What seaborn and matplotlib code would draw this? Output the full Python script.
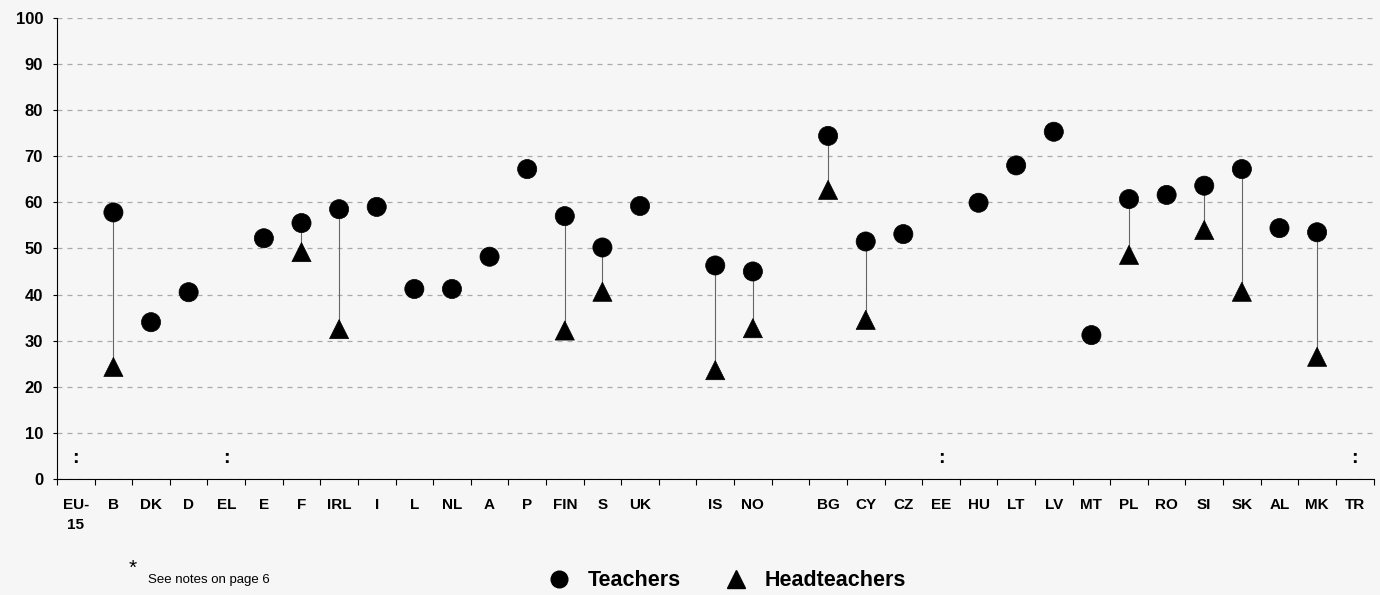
import numpy as np
import pandas as pd
import seaborn as sns
import matplotlib.pyplot as plt
from matplotlib.lines import Line2D

# slots along the x axis, "" marks an empty gap between country groups
slots = ["EU-\n15", "B", "DK", "D", "EL", "E", "F", "IRL", "I", "L", "NL", "A", "P",
         "FIN", "S", "UK", "", "IS", "NO", "", "BG", "CY", "CZ", "EE", "HU", "LT",
         "LV", "MT", "PL", "RO", "SI", "SK", "AL", "MK", "TR"]

teachers = [None, 57.8, 34, 40.5, None, 52.2, 55.5, 58.5, 59, 41.2, 41.2, 48.2, 67.2,
            57, 50.2, 59.2, None, 46.3, 45, None, 74.4, 51.5, 53.1, None, 59.9, 68,
            75.3, 31.2, 60.7, 61.6, 63.6, 67.2, 54.4, 53.5, None]

headteachers = [None, 24.3, None, None, None, None, 49.2, 32.5, None, None, None, None,
                None, 32.2, 40.6, None, None, 23.6, 32.7, None, 62.7, 34.5, None, None,
                None, None, None, None, 48.6, None, 54, 40.6, None, 26.5, None]

# countries with no data (shown as ":")
missing = ["EU-\n15", "EL", "EE", "TR"]

sns.set_style("white")
plt.rcParams["font.family"] = ["Liberation Sans", "DejaVu Sans"]
plt.rcParams["text.color"] = "black"
plt.rcParams["xtick.color"] = "black"
plt.rcParams["ytick.color"] = "black"

bg = "#f6f6f6"
fig = plt.figure(figsize=(13.8, 5.95), dpi=100, facecolor=bg)
ax = fig.add_axes([0.0413, 0.195, 0.954, 0.775])
ax.set_facecolor(bg)

pos = np.arange(len(slots))
df = pd.DataFrame({"pos": pos, "country": slots,
                   "Teachers": pd.to_numeric(pd.Series(teachers), errors="coerce"),
                   "Headteachers": pd.to_numeric(pd.Series(headteachers), errors="coerce")})

# connecting lines between teacher and headteacher values
pairs = df.dropna(subset=["Teachers", "Headteachers"])
ax.vlines(pairs["pos"], pairs["Headteachers"], pairs["Teachers"],
          color="#666666", lw=0.8, zorder=2)

long = df.melt(id_vars=["pos", "country"], value_vars=["Teachers", "Headteachers"],
               var_name="group", value_name="value").dropna(subset=["value"])
sns.scatterplot(data=long, x="pos", y="value", style="group",
                markers={"Teachers": "o", "Headteachers": "^"},
                color="black", s=190, edgecolor="black", linewidth=0.5,
                legend=False, ax=ax, zorder=3)

for c in missing:
    ax.text(slots.index(c), 4.5, ":", ha="center", va="center",
            fontsize=14, fontweight="bold", color="black")

ax.set_xlim(-0.5, len(slots) - 0.5)
ax.set_ylim(0, 100)
ax.set_yticks(range(0, 101, 10))
ax.set_yticklabels([str(v) for v in range(0, 101, 10)], fontsize=12, fontweight="bold")
ax.set_xticks(pos)
ax.set_xticklabels(slots, fontsize=11, fontweight="bold", va="top", linespacing=1.5)
ax.set_xticks(np.arange(-0.5, len(slots), 1), minor=True)
ax.tick_params(axis="x", which="major", bottom=True, length=0, pad=14)
ax.tick_params(axis="x", which="minor", bottom=True, length=4, width=0.8,
               direction="out", color="black")
ax.tick_params(axis="y", left=True, length=3, width=0.8, direction="out",
               color="black", pad=7)
ax.set_xlabel("")
ax.set_ylabel("")

ax.grid(axis="y", linestyle=(0, (4, 4)), color="#aaaaaa", lw=0.9)
ax.set_axisbelow(True)
for side in ["top", "right"]:
    ax.spines[side].set_visible(False)
ax.spines["left"].set_color("black")
ax.spines["left"].set_linewidth(0.8)
ax.spines["bottom"].set_color("black")
ax.spines["bottom"].set_linewidth(0.8)

handles = [Line2D([], [], marker="o", color="black", ls="none", markersize=12, label="Teachers"),
           Line2D([], [], marker="^", color="black", ls="none", markersize=13, label="Headteachers")]
fig.legend(handles=handles, loc="center", bbox_to_anchor=(0.525, 0.024), ncol=2,
           frameon=False, prop={"size": 15.5, "weight": "bold"}, handletextpad=0.6,
           columnspacing=1.8, handlelength=1.5)

fig.text(0.0935, 0.045, "*", fontsize=15, ha="left", va="center")
fig.text(0.107, 0.025, "See notes on page 6", fontsize=9.5, ha="left", va="center")

fig.savefig("out.png", dpi=100, facecolor=bg)
